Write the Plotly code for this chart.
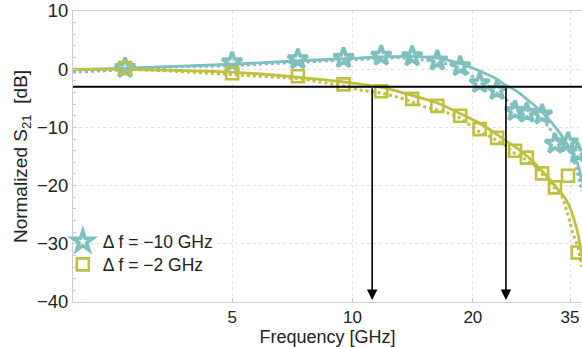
import numpy as np
import plotly.graph_objects as go

# ---------------- data ----------------
freq_markers = [2.7, 5.0, 7.3, 9.5, 11.8, 14.1, 16.3, 18.6, 20.8, 23.0, 25.5, 27.3, 29.8, 32.1, 34.6, 36.6]
s21_star = [0.2, 1.2, 1.7, 1.9, 2.3, 2.2, 1.5, 0.5, -2.4, -3.6, -7.2, -7.5, -7.8, -12.8, -12.6, -14.4]
s21_square = [0.2, -0.7, -1.2, -2.6, -3.8, -5.1, -6.3, -8.0, -10.3, -11.8, -14.0, -15.2, -17.9, -20.3, -18.3, -31.5]

freq_fit = [2.0, 2.71, 5.0, 7.39, 9.52, 11.78, 14.08, 16.3, 18.56, 20.8, 22.96, 24.2, 25.5, 27.8, 29.8, 31.7, 34.4, 36.4, 37.5]
fit_star = [-0.1, 0.2, 0.85, 1.45, 1.8, 2.1, 2.2, 1.9, 1.0, -0.3, -1.7, -2.8, -3.6, -5.6, -7.4, -9.4, -12.8, -15.9, -19.5]
fit_square = [0.0, -0.05, -0.5, -1.4, -2.2, -3.1, -4.5, -5.8, -7.6, -9.3, -11.2, -12.3, -13.3, -15.4, -17.5, -19.6, -22.7, -27.5, -32.5]

freq_dot = [2.0, 2.7, 3.5, 5.0, 6.0, 7.3, 8.5, 9.5, 10.5, 11.8, 13.0, 14.1, 15.0, 16.3, 17.5, 18.6, 19.5,
            20.8, 22.0, 23.0, 24.0, 25.5, 26.5, 27.3, 28.5, 29.8, 31.0, 32.1, 33.5, 34.6, 35.5, 36.6, 37.5]
dot_star = [-0.5, -0.1, 0.4, 0.6, 0.9, 1.2, 1.4, 1.6, 1.7, 1.9, 2.0, 1.8, 1.6, 1.3, 0.8, 0.2, -0.7,
            -2.2, -3.5, -4.2, -5.0, -6.5, -6.8, -7.0, -7.8, -8.5, -10.0, -11.5, -12.5, -13.5, -15.0, -18.0, -21.0]
dot_square = [-0.1, 0.0, -0.3, -0.9, -1.2, -1.6, -2.3, -2.9, -3.6, -4.1, -4.8, -5.6, -6.4, -7.0, -7.6, -8.4, -9.4,
              -10.8, -11.5, -12.2, -13.0, -14.5, -15.0, -15.8, -16.5, -18.0, -19.5, -20.5, -22.0, -25.0, -28.0, -30.5, -34.0]

cutoff_freqs = [11.2, 24.2]
threshold_db = -3
x_ticks = [5, 10, 20, 35]
y_ticks = [10, 0, -10, -20, -30, -40]
legend_names = ["\u0394 f = \u221210 GHz", "\u0394 f = \u22122 GHz"]

CYAN = "rgb(127,191,191)"
OLIVE = "rgb(191,191,64)"
FONT = "Liberation Sans, Arial, Helvetica, sans-serif"

x_min, x_max = 2.0, 37.5
y_min, y_max = -40, 10

fig = go.Figure()

# dotted traces
fig.add_trace(go.Scatter(x=freq_dot, y=dot_star, mode="lines",
                         line=dict(color=CYAN, width=3, dash="dot"), showlegend=False))
fig.add_trace(go.Scatter(x=freq_dot, y=dot_square, mode="lines",
                         line=dict(color=OLIVE, width=3, dash="dot"), showlegend=False))
# solid fits
fig.add_trace(go.Scatter(x=freq_fit, y=fit_star, mode="lines", line_shape="spline",
                         line=dict(color=CYAN, width=2.8), showlegend=False))
fig.add_trace(go.Scatter(x=freq_fit, y=fit_square, mode="lines", line_shape="spline",
                         line=dict(color=OLIVE, width=2.8), showlegend=False))
# markers
fig.add_trace(go.Scatter(x=freq_markers, y=s21_star, mode="markers", name=legend_names[0],
                         legend="legend",
                         marker=dict(symbol="star-open", size=15, color=CYAN, line=dict(color=CYAN, width=3.6))))
fig.add_trace(go.Scatter(x=freq_markers, y=s21_square, mode="markers", name=legend_names[1],
                         legend="legend2",
                         marker=dict(symbol="square-open", size=12, color=OLIVE, line=dict(color=OLIVE, width=2.6))))

# -3 dB line
fig.add_trace(go.Scatter(x=[x_min, x_max], y=[threshold_db, threshold_db], mode="lines",
                         line=dict(color="black", width=2), showlegend=False, hoverinfo="skip"))

for fc in cutoff_freqs:
    fig.add_annotation(x=np.log10(fc), y=y_min, ax=np.log10(fc), ay=threshold_db,
                       xref="x", yref="y", axref="x", ayref="y", text="",
                       showarrow=True, arrowhead=2, arrowsize=1.3, arrowwidth=1.6,
                       arrowcolor="black", standoff=2)

legend_style = dict(x=-0.02, xanchor="left", yanchor="middle", bgcolor="rgba(0,0,0,0)",
                    font=dict(size=17.5, color="#222"), itemwidth=30)

fig.update_layout(
    width=582, height=347,
    margin=dict(l=73, r=0, t=7, b=45),
    plot_bgcolor="white", paper_bgcolor="white",
    font=dict(family=FONT, size=18, color="#222"),
    showlegend=True,
    legend=dict(y=0.207, **legend_style),
    legend2=dict(y=0.129, **legend_style),
)
fig.update_xaxes(type="log", range=[np.log10(x_min), np.log10(x_max)],
                 tickvals=x_ticks, ticktext=[str(v) for v in x_ticks],
                 showgrid=True, gridcolor="#e2e2e2", griddash="dot", gridwidth=1,
                 showline=True, linecolor="#cccccc", linewidth=1, mirror=True,
                 ticks="inside", ticklen=4, tickcolor="#cccccc",
                 zeroline=False, title=dict(text="Frequency [GHz]", standoff=4,
                                            font=dict(size=18)),
                 tickfont=dict(size=17))
fig.update_yaxes(range=[y_min, y_max], tickvals=y_ticks,
                 showgrid=True, gridcolor="#e2e2e2", griddash="dot", gridwidth=1,
                 showline=True, linecolor="#cccccc", linewidth=1,
                 ticks="inside", ticklen=4, tickcolor="#cccccc",
                 minor=dict(dtick=2, ticks="inside", ticklen=3, tickcolor="#cccccc", showgrid=False),
                 zeroline=False, ticklabeloverflow="allow",
                 title=dict(text="Normalized S<sub>21</sub>  [dB]", standoff=4, font=dict(size=19)),
                 tickfont=dict(size=18.5))

fig.write_html("out.html")
